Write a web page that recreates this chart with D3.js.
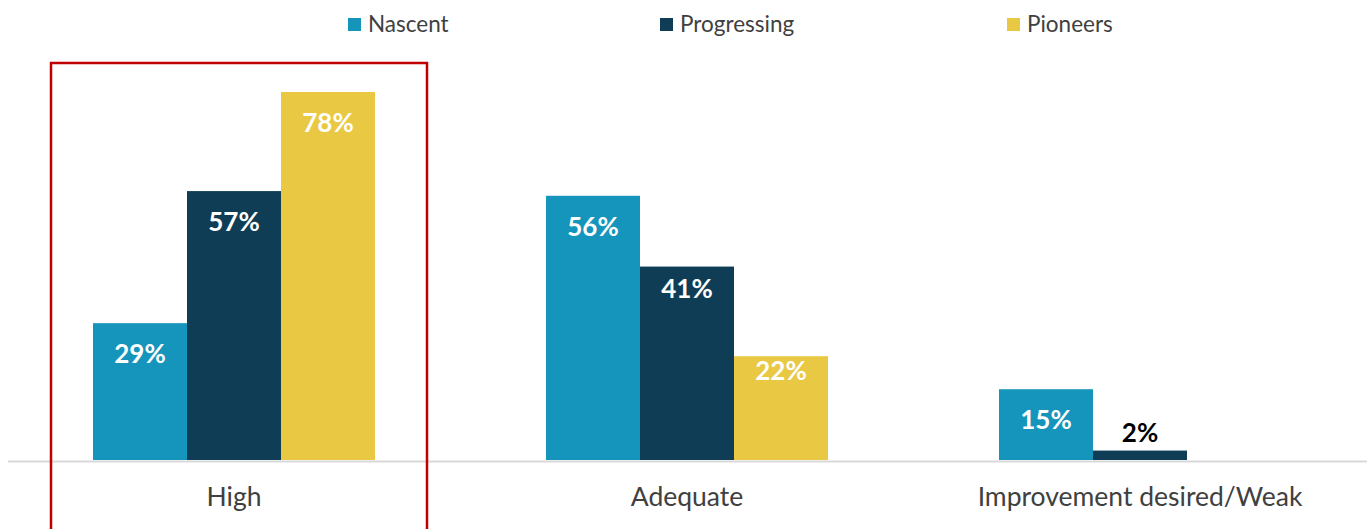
<!DOCTYPE html>
<html>
<head>
<meta charset="utf-8">
<script src="https://cdn.jsdelivr.net/npm/d3@7"></script>
<style>
  html, body { margin: 0; padding: 0; background: #ffffff; }
  svg { display: block; font-family: Lato, "Open Sans", sans-serif; }
</style>
</head>
<body>
<svg id="chart" width="1368" height="529"></svg>
<script>
// Ratings by maturity segment
const categories = ["High", "Adequate", "Improvement desired/Weak"];
const seriesNames = ["Nascent", "Progressing", "Pioneers"];
const nascent = [29, 56, 15];
const progressing = [57, 41, 2];
const pioneers = [78, 22, 0];
const seriesValues = [nascent, progressing, pioneers];
const colors = ["#1594BC", "#0F3D55", "#E9C844"];
const highlighted = "High";

const svg = d3.select("#chart");
const baseY = 460;

const x0 = d3.scaleBand().domain(categories).range([7.5, 1366.5]).padding(0);
const groupW = 282;
const x1 = d3.scaleBand().domain(seriesNames).range([0, groupW]).padding(0);
const y = d3.scaleLinear().domain([0, 78]).range([baseY, 92]);

// labels in the shorter Adequate bars sit a little higher inside the bar
const labelInset = { "Adequate|Progressing": 31, "Adequate|Pioneers": 24 };

const rows = categories.map((c, i) => ({
  category: c,
  bars: seriesNames.map((s, j) => ({ category: c, series: s, value: seriesValues[j][i], color: colors[j] }))
}));

const groups = svg.selectAll("g.grp").data(rows).join("g")
  .attr("class", "grp")
  .attr("transform", d => `translate(${x0(d.category) + (x0.bandwidth() - groupW) / 2},0)`);

groups.selectAll("rect").data(d => d.bars).join("rect")
  .attr("x", d => x1(d.series))
  .attr("width", x1.bandwidth())
  .attr("y", d => y(d.value))
  .attr("height", d => baseY - y(d.value))
  .attr("fill", d => d.color);

// value labels: inside the bar when tall enough, otherwise above
groups.selectAll("text.val").data(d => d.bars).join("text")
  .attr("class", "val")
  .attr("x", d => x1(d.series) + x1.bandwidth() / 2)
  .attr("y", d => {
    const h = baseY - y(d.value);
    if (h > 45) return y(d.value) + (labelInset[d.category + "|" + d.series] || 40);
    if (d.value === 0) return baseY + 9;
    return y(d.value) - 9;
  })
  .attr("text-anchor", "middle")
  .attr("font-size", 26)
  .attr("font-weight", 700)
  .attr("fill", d => {
    const h = baseY - y(d.value);
    if (h > 45 || d.value === 0) return "#ffffff";
    return "#000000";
  })
  .text(d => d.value + "%");

// baseline axis
const xAxis = d3.axisBottom(x0).tickSize(0).tickPadding(26);
const axisG = svg.append("g").attr("transform", `translate(0,${baseY + 1})`).call(xAxis);
axisG.select(".domain").attr("stroke", "#d9d9d9").attr("stroke-width", 2);
axisG.selectAll("text")
  .attr("font-family", "Lato, 'Open Sans', sans-serif")
  .attr("font-size", 26.5)
  .attr("fill", "#404040");

// highlight frame around the first category
const hx = x0(highlighted) + (x0.bandwidth() - groupW) / 2;
svg.append("rect")
  .attr("x", hx - 42)
  .attr("y", 63)
  .attr("width", groupW + 94)
  .attr("height", 480)
  .attr("fill", "none")
  .attr("stroke", "#C00000")
  .attr("stroke-width", 2.5);

// legend
const legendX = [348, 660, 1007];
const legend = svg.selectAll("g.leg").data(seriesNames).join("g")
  .attr("class", "leg")
  .attr("transform", (d, i) => `translate(${legendX[i]},0)`);
legend.append("rect")
  .attr("x", 0).attr("y", 18).attr("width", 13).attr("height", 13)
  .attr("fill", (d, i) => colors[i]);
legend.append("text")
  .attr("x", 20).attr("y", 24).attr("dy", "0.35em")
  .attr("font-size", 22.5)
  .attr("fill", "#404040")
  .text(d => d);
</script>
</body>
</html>
